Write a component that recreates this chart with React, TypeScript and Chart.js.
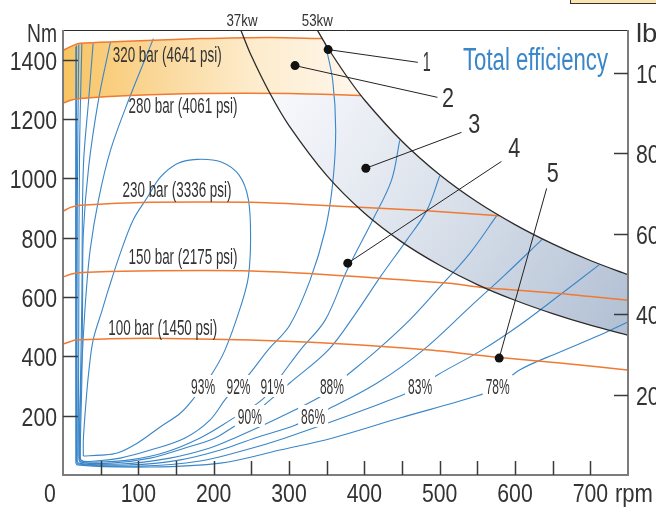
import { useEffect, useRef } from 'react';
import { Chart, registerables } from 'chart.js';

Chart.register(...registerables);

// ---------- data (rpm, Nm) ----------
const X_MAX = 750;
const Y_MAX = 1500;
const NM_PER_LBFFT = 1.35582;

const xTickValues = [0, 100, 200, 300, 400, 500, 600, 700];
const xMinorTicks = [50, 100, 150, 200, 250, 300, 350, 400, 450, 500, 550, 600, 650, 700];
const yTickValues = [200, 400, 600, 800, 1000, 1200, 1400];
const lbfTickValues = [200, 400, 600, 800, 1000];

// constant pressure torque lines
const p320 = [[0, 1431], [10, 1444], [23, 1455], [76, 1461], [182, 1471], [275, 1475], [344, 1471]];
const p280 = [[0, 1253], [10, 1263], [23, 1269], [89, 1279], [182, 1286], [301, 1286], [396, 1279]];
const p230 = [[0, 889], [10, 902], [23, 909], [116, 919], [248, 919], [341, 909], [473, 892], [579, 874]];
const p150 = [[0, 667], [10, 677], [25, 683], [100, 688], [250, 688], [341, 677], [513, 646], [553, 633], [659, 612], [749, 589]];
const p100 = [[0, 441], [10, 450], [17, 455], [60, 459], [116, 461], [248, 455], [354, 444], [487, 421], [576, 397], [663, 377], [749, 354]];
const pressureLines = [p320, p280, p230, p150, p100];
const pressureNames = ['320 bar (4641 psi)', '280 bar (4061 psi)', '230 bar (3336 psi)', '150 bar (2175 psi)', '100 bar (1450 psi)'];
const pressureLabelPos = [[66, 1391], [87, 1219], [79, 936], [87, 710], [60, 471]];

// constant power curves
const p37 = [[236, 1500], [250, 1413], [275, 1285], [300, 1178], [350, 1010], [400, 883], [450, 785], [500, 707], [550, 642], [600, 589], [650, 544], [700, 505], [750, 471]];
const p53 = [[337, 1502], [350, 1446], [375, 1350], [400, 1265], [450, 1125], [500, 1012], [550, 920], [600, 844], [650, 779], [700, 723], [750, 675]];
const powerNames = ['37kw', '53kw'];
const powerLabelPos = [[217, 1515], [317, 1515]];
const blueBandStart = [276, 1281];

// total efficiency contours
const eff93 = [[27, 64], [50, 67], [72, 74], [99, 108], [129, 162], [156, 209], [175, 263], [195, 330], [215, 421], [236, 569], [246, 667], [249, 800], [246, 930], [234, 1010], [210, 1055], [178, 1064], [152, 1050], [129, 1003], [112, 936], [93, 859], [76, 747], [60, 623], [52, 556], [40, 455], [34, 343], [30, 229], [27, 118], [27, 64]];
const eff92 = [[120, 1471], [87, 1263], [63, 1094], [47, 926], [36, 758], [30, 589], [26, 421], [23, 253], [22, 84], [24, 50], [43, 47], [76, 57], [116, 84], [162, 125], [195, 185], [218, 263], [244, 330], [272, 421], [301, 505], [328, 657], [348, 825], [358, 983], [362, 1162], [358, 1330], [348, 1455]];
const eff91 = [[63, 1460], [47, 1263], [34, 1037], [27, 815], [26, 589], [25, 320], [23, 67], [25, 47], [50, 44], [89, 51], [136, 77], [182, 125], [222, 185], [264, 253], [288, 330], [315, 421], [348, 522], [377, 690], [411, 859], [436, 993], [447, 1128]];
const eff90 = [[40, 1455], [34, 1263], [27, 1037], [25, 589], [22, 67], [24, 44], [63, 40], [116, 57], [162, 91], [202, 125], [226, 162], [248, 195], [264, 229], [301, 310], [352, 421], [387, 539], [421, 667], [456, 791], [483, 892], [500, 1008]];
const eff88 = [[25, 1455], [22, 1094], [21, 589], [21, 64], [23, 44], [76, 37], [142, 57], [195, 91], [228, 125], [288, 195], [341, 263], [358, 296], [374, 330], [417, 421], [460, 522], [500, 633], [540, 747], [576, 875]];
const eff86 = [[21, 1451], [19, 926], [19, 67], [21, 40], [89, 34], [156, 51], [209, 84], [255, 125], [308, 168], [331, 199], [352, 222], [417, 310], [478, 421], [540, 566], [586, 673], [636, 794]];
const eff83 = [[18, 1448], [18, 57], [20, 37], [103, 30], [182, 47], [242, 84], [295, 125], [381, 202], [450, 269], [474, 296], [497, 337], [556, 421], [606, 505], [659, 606], [712, 709]];
const eff78 = [[17, 1444], [17, 51], [19, 34], [116, 27], [209, 40], [288, 84], [358, 125], [447, 192], [549, 266], [577, 296], [606, 354], [659, 414], [712, 471], [749, 515]];
const effCurves = [eff93, eff92, eff91, eff90, eff88, eff86, eff83, eff78];
const effNames = ['93%', '92%', '91%', '90%', '88%', '86%', '83%', '78%'];
const effLabelPos = [[186, 300], [233, 300], [278, 300], [248, 199], [357, 300], [332, 199], [474, 300], [577, 300]];

// numbered callouts
const calloutNames = ['1', '2', '3', '4', '5'];
const calloutDots = [[352, 1434], [308, 1380], [402, 1034], [378, 714], [579, 394]];
const calloutEnds = [[471, 1391], [497, 1273], [529, 1155], [582, 1057], [642, 966]];
const calloutLabelPos = [[483, 1397], [511, 1273], [546, 1185], [599, 1104], [650, 1020]];

const titleText = 'Total efficiency';
const titlePos = [531, 1364];

// ---------- styles ----------
const BLUE = '#3a86c8';
const ORANGE = '#ef7a32';
const BLACK = '#2b2b2b';
const TEXT = '#333333';
const AXIS = '#7c7c7c';
const TEXT_FONT = "'Liberation Sans', Arial, sans-serif";

type P = number[];
const toXY = (arr: P[]) => arr.map(([x, y]) => ({ x, y }));

function drawText(ctx: CanvasRenderingContext2D, text: string, x: number, y: number, size: number, width: number, align: CanvasTextAlign, color: string) {
  ctx.save();
  ctx.font = `${size}px ${TEXT_FONT}`;
  const w = ctx.measureText(text).width || 1;
  ctx.translate(x, y);
  ctx.scale(width / w, 1);
  ctx.textAlign = align;
  ctx.textBaseline = 'alphabetic';
  ctx.fillStyle = color;
  ctx.fillText(text, 0, 0);
  ctx.restore();
}

const overlayPlugin = {
  id: 'overlay',
  beforeDatasetsDraw(chart: any) {
    const { ctx, chartArea: a, scales } = chart;
    const x = scales.x, y = scales.y;
    const path = (pts: P[]) => {
      ctx.beginPath();
      pts.forEach((p, i) => {
        const px = x.getPixelForValue(p[0]);
        const py = y.getPixelForValue(p[1]);
        if (i === 0) ctx.moveTo(px, py); else ctx.lineTo(px, py);
      });
      ctx.closePath();
    };
    ctx.save();
    ctx.beginPath();
    ctx.rect(a.left, a.top, a.right - a.left, a.bottom - a.top);
    ctx.clip();
    // orange band (320 bar .. 280 bar, up to max power)
    const orange = [...p320, ...p53.filter(p => p[0] > 344 && p[0] < 396), ...[...p280].reverse()];
    const g1 = ctx.createLinearGradient(x.getPixelForValue(0), 0, x.getPixelForValue(390), 0);
    g1.addColorStop(0, '#f8c462');
    g1.addColorStop(0.3, '#fad696');
    g1.addColorStop(0.65, '#fdeccc');
    g1.addColorStop(1, '#fff7ec');
    path(orange);
    ctx.fillStyle = g1;
    ctx.fill();
    // blue band between 37kw and 53kw
    const blue = [blueBandStart, ...p37.filter(p => p[0] > blueBandStart[0]), ...p53.filter(p => p[0] > 396).reverse(), ...p280.filter(p => p[0] > blueBandStart[0]).reverse()];
    const g2 = ctx.createLinearGradient(x.getPixelForValue(290), y.getPixelForValue(1300), x.getPixelForValue(750), y.getPixelForValue(550));
    g2.addColorStop(0, '#f7f8fc');
    g2.addColorStop(0.5, '#d9e0ea');
    g2.addColorStop(1, '#b3c1d5');
    path(blue);
    ctx.fillStyle = g2;
    ctx.fill();
    ctx.restore();
  },
  afterDatasetsDraw(chart: any) {
    const { ctx, chartArea: a, scales } = chart;
    const x = scales.x, y = scales.y, y2 = scales.y2;
    const X = (v: number) => x.getPixelForValue(v);
    const Y = (v: number) => y.getPixelForValue(v);
    ctx.save();
    // frame
    ctx.lineCap = 'butt';
    ctx.strokeStyle = BLACK;
    ctx.lineWidth = 1;
    ctx.beginPath();
    ctx.moveTo(a.left, a.top + 0.5);
    ctx.lineTo(a.right, a.top + 0.5);
    ctx.stroke();
    ctx.strokeStyle = AXIS;
    ctx.lineWidth = 2;
    ctx.beginPath();
    ctx.moveTo(a.left, a.top);
    ctx.lineTo(a.left, a.bottom);
    ctx.lineTo(a.right, a.bottom);
    ctx.lineTo(a.right, a.top);
    ctx.stroke();
    // inward ticks
    ctx.strokeStyle = '#3a3a3a';
    ctx.lineWidth = 1.5;
    ctx.beginPath();
    yTickValues.forEach(v => { const py = Math.round(Y(v)) + 0.5; ctx.moveTo(a.left, py); ctx.lineTo(a.left + 15, py); });
    xMinorTicks.forEach(v => { const px = Math.round(X(v)) + 0.5; ctx.moveTo(px, a.bottom); ctx.lineTo(px, a.bottom - 14); });
    lbfTickValues.forEach(v => { const py = Math.round(y2.getPixelForValue(v)) + 0.5; ctx.moveTo(a.right, py); ctx.lineTo(a.right - 14, py); });
    ctx.stroke();

    // tick labels (narrow lettering, positioned by the scales)
    const digitW = 11.8;
    yTickValues.forEach(v => { const s = String(v); drawText(ctx, s, a.left - 6, Y(v) + 10, 26, digitW * s.length, 'right', TEXT); });
    lbfTickValues.forEach(v => { const s = String(v); drawText(ctx, s, a.right + 8, y2.getPixelForValue(v) + 10, 26, digitW * s.length, 'left', TEXT); });
    xTickValues.forEach(v => {
      const s = String(v);
      const px = v === 0 ? a.left - 13 : X(v);
      drawText(ctx, s, px, a.bottom + 27, 26, digitW * s.length, 'center', TEXT);
    });

    // pressure labels
    pressureNames.forEach((t, i) => {
      const [rx, ry] = pressureLabelPos[i];
      drawText(ctx, t, X(rx), Y(ry), 22, 109, 'left', TEXT);
    });
    // efficiency labels with white background
    effNames.forEach((t, i) => {
      const [rx, ry] = effLabelPos[i];
      const cx = X(rx), cy = Y(ry);
      ctx.fillStyle = '#ffffff';
      ctx.fillRect(cx - 15, cy - 11, 30, 22);
      drawText(ctx, t, cx, cy + 8, 22, 24, 'center', TEXT);
    });
    // power labels
    powerNames.forEach((t, i) => {
      const [rx, ry] = powerLabelPos[i];
      drawText(ctx, t, X(rx), Y(ry), 17, 31, 'left', TEXT);
    });
    // callout numbers
    calloutNames.forEach((t, i) => {
      const [rx, ry] = calloutLabelPos[i];
      drawText(ctx, t, X(rx), Y(ry) + 10, 28, t === '1' ? 8 : 12, 'center', TEXT);
    });
    // title
    drawText(ctx, titleText, X(titlePos[0]), Y(titlePos[1]), 31, 145, 'left', BLUE);
    // axis titles
    drawText(ctx, 'Nm', a.left - 6, a.top + 12, 25, 30, 'right', TEXT);
    drawText(ctx, 'lbf ft', a.right + 8, a.top + 12, 25, 52, 'left', TEXT);
    drawText(ctx, 'rpm', a.right - 13, a.bottom + 27, 26, 38, 'left', TEXT);
    ctx.restore();
  },
};

export default function App() {
  const ref = useRef<HTMLCanvasElement | null>(null);
  useEffect(() => {
    document.body.style.margin = '0';
    const canvas = ref.current;
    if (!canvas) return;
    const line = (data: P[], color: string, width: number, tension = 0.4) => ({
      data: toXY(data),
      showLine: true,
      borderColor: color,
      backgroundColor: color,
      borderWidth: width,
      pointRadius: 0,
      pointHoverRadius: 0,
      tension,
      fill: false,
      xAxisID: 'x',
      yAxisID: 'y',
    });
    const datasets: any[] = [];
    datasets.push({
      data: toXY(calloutDots),
      showLine: false,
      pointRadius: 4.5,
      pointBackgroundColor: '#111',
      pointBorderWidth: 0,
      xAxisID: 'x',
      yAxisID: 'y',
    });
    calloutDots.forEach((d, i) => datasets.push(line([d, calloutEnds[i]], '#222', 1, 0)));
    datasets.push(line(p37, BLACK, 1.3, 0.3));
    datasets.push(line(p53, BLACK, 1.3, 0.3));
    pressureLines.forEach(p => datasets.push(line(p, ORANGE, 1.5, 0.3)));
    effCurves.forEach(c => datasets.push(line(c, BLUE, 1.1, 0.35)));

    const chart = new Chart(canvas, {
      type: 'scatter',
      data: { datasets },
      plugins: [overlayPlugin],
      options: {
        animation: false,
        responsive: false,
        maintainAspectRatio: false,
        events: [],
        layout: { padding: { top: 30, left: 0, right: 0, bottom: 0 } },
        plugins: { legend: { display: false }, tooltip: { enabled: false } },
        scales: {
          x: {
            type: 'linear',
            position: 'bottom',
            min: 0,
            max: X_MAX,
            afterBuildTicks: (s: any) => { s.ticks = xTickValues.map(v => ({ value: v })); },
            afterFit: (s: any) => { s.height = 37; },
            grid: { display: false, drawTicks: false },
            border: { display: false },
            ticks: { display: false },
          },
          y: {
            type: 'linear',
            position: 'left',
            min: 0,
            max: Y_MAX,
            afterBuildTicks: (s: any) => { s.ticks = yTickValues.map(v => ({ value: v })); },
            afterFit: (s: any) => { s.width = 63; },
            grid: { display: false, drawTicks: false },
            border: { display: false },
            ticks: { display: false },
          },
          y2: {
            type: 'linear',
            position: 'right',
            min: 0,
            max: Y_MAX / NM_PER_LBFFT,
            afterBuildTicks: (s: any) => { s.ticks = lbfTickValues.map(v => ({ value: v })); },
            afterFit: (s: any) => { s.width = 28; },
            grid: { display: false, drawTicks: false },
            border: { display: false },
            ticks: { display: false },
          },
        },
      } as any,
    });
    return () => chart.destroy();
  }, []);

  return (
    <div style={{ position: 'relative', width: 656, height: 512, overflow: 'hidden', background: '#fff' }}>
      <canvas ref={ref} width={656} height={512} />
      <div style={{ position: 'absolute', left: 570, top: -10, width: 95, height: 12, border: '1px solid #333', background: '#fbe4ae' }} />
    </div>
  );
}
